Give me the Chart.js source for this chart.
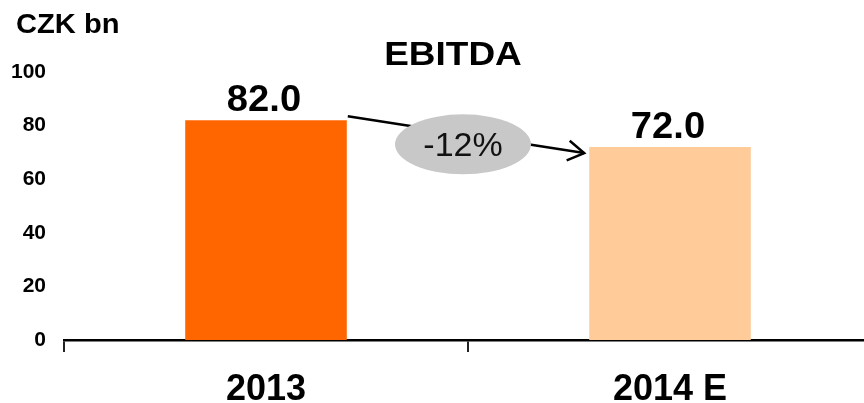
<!DOCTYPE html>
<html>
<head>
<meta charset="utf-8">
<script src="https://cdn.jsdelivr.net/npm/chart.js@4.4.0/dist/chart.umd.min.js"></script>
<style>
  html, body { margin: 0; padding: 0; background: #fff; overflow: hidden; width: 864px; height: 403px; }
  #wrap { position: absolute; left: 0; top: 0; width: 872px; height: 403px; }
</style>
</head>
<body>
<div id="wrap"><canvas id="c"></canvas></div>
<script>
const categories = ['2013', '2014 E'];
const ebitda = [82.0, 72.0];
const barColors = ['#FF6600', '#FFCC99'];
const yTicks = [0, 20, 40, 60, 80, 100];
const titleText = 'EBITDA';
const unitText = 'CZK bn';
const changeText = '-12%';

const FONT = '"Liberation Sans", Arial, sans-serif';

function wideText(ctx, text, x, y, sx) {
  ctx.save();
  ctx.translate(x, y);
  ctx.scale(sx, 1);
  ctx.fillText(text, 0, 0);
  ctx.restore();
}

const overlay = {
  id: 'overlay',
  afterDatasetsDraw(chart) {
    const ctx = chart.ctx;
    const meta = chart.getDatasetMeta(0);
    const b1 = meta.data[0], b2 = meta.data[1];
    const ys = chart.scales.y;
    ctx.save();
    // data labels
    ctx.fillStyle = '#000';
    ctx.textAlign = 'center';
    ctx.textBaseline = 'alphabetic';
    ctx.font = 'bold 36px ' + FONT;
    meta.data.forEach((bar, i) => {
      wideText(ctx, ebitda[i].toFixed(1), bar.x - 2, bar.y - 9, 1.06);
    });
    // unit label
    ctx.textAlign = 'left';
    ctx.font = 'bold 28px ' + FONT;
    wideText(ctx, unitText, 16, 33, 1.04);
    // title
    ctx.textAlign = 'center';
    ctx.font = 'bold 33px ' + FONT;
    wideText(ctx, titleText, 453, 65, 1.12);
    // arrow
    const x0 = b1.x + b1.width / 2 + 1, y0 = b1.y - 4;
    const x1 = b2.x - b2.width / 2 - 5, y1 = b2.y + 6;
    ctx.strokeStyle = '#000';
    ctx.lineWidth = 2.5;
    ctx.beginPath();
    ctx.moveTo(x0, y0);
    ctx.lineTo(x1, y1);
    ctx.stroke();
    const ang = Math.atan2(y1 - y0, x1 - x0);
    const L = 19, spread = 0.55;
    ctx.beginPath();
    ctx.moveTo(x1 - L * Math.cos(ang - spread), y1 - L * Math.sin(ang - spread));
    ctx.lineTo(x1, y1);
    ctx.lineTo(x1 - L * Math.cos(ang + spread), y1 - L * Math.sin(ang + spread));
    ctx.stroke();
    // ellipse
    const cx = (b1.x + b1.width / 2 + b2.x - b2.width / 2) / 2 - 5;
    const cy = ys.getPixelForValue(73);
    ctx.fillStyle = '#C8C8C8';
    ctx.beginPath();
    ctx.ellipse(cx, cy, 68, 30, 0, 0, Math.PI * 2);
    ctx.fill();
    ctx.fillStyle = '#111';
    ctx.font = '34px ' + FONT;
    ctx.textAlign = 'center';
    ctx.fillText(changeText, cx, cy + 12);
    ctx.restore();
  }
};

new Chart(document.getElementById('c'), {
  type: 'bar',
  data: {
    labels: categories,
    datasets: [{
      data: ebitda,
      backgroundColor: barColors,
      borderWidth: 0,
      categoryPercentage: 1.0,
      barPercentage: 0.4
    }]
  },
  options: {
    responsive: true,
    maintainAspectRatio: false,
    animation: false,
    layout: { padding: { top: 72, right: 0, bottom: 0, left: 0 } },
    plugins: { legend: { display: false }, tooltip: { enabled: false }, title: { display: false } },
    scales: {
      x: {
        grid: { display: true, drawOnChartArea: false, drawTicks: true, tickLength: 12, color: '#222', lineWidth: 2, offset: true },
        border: { display: true, color: '#000', width: 2.5 },
        ticks: { color: '#000', font: { family: FONT, size: 36, weight: 'bold' }, padding: 16, maxRotation: 0 },
        afterFit(s) { s.height = 63; }
      },
      y: {
        min: 0, max: 100,
        afterBuildTicks(s) { s.ticks = yTicks.map(v => ({ value: v })); },
        grid: { display: false, drawTicks: false },
        border: { display: false },
        ticks: { color: '#000', font: { family: FONT, size: 21, weight: 'bold' }, padding: 18 },
        afterFit(s) { s.width = 64; }
      }
    }
  },
  plugins: [overlay]
});
</script>
</body>
</html>
